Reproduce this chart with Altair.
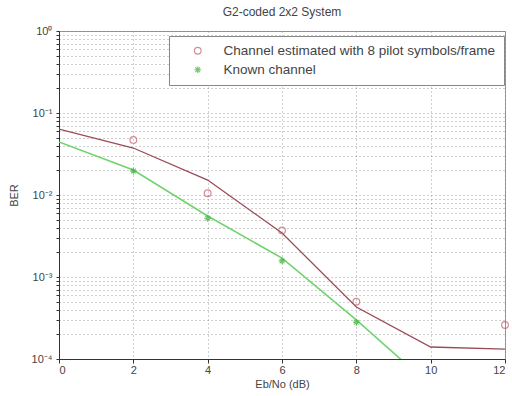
import altair as alt
import pandas as pd

# ---- data ----
red_line_x = [0, 2, 4, 6, 8, 10, 12]
red_line_y = [0.0638, 0.0374, 0.0152, 0.00344, 0.00043, 0.00014, 0.000132]
green_line_x = [0, 2, 4, 6, 8, 10]
green_line_y = [0.0443, 0.0202, 0.00555, 0.0017, 0.0003, 0.000047]

est_x = [2, 4, 6, 8, 12]
est_y = [0.047, 0.0105, 0.0037, 0.0005, 0.00026]
known_x = [2, 4, 6, 8]
known_y = [0.0196, 0.0052, 0.00157, 0.00028]

series_names = ["Channel estimated with 8 pilot symbols/frame", "Known channel"]
x_ticks = [0, 2, 4, 6, 8, 10, 12]
y_ticks = [m * 10.0 ** e for e in [-4, -3, -2, -1] for m in range(1, 10)] + [1.0]

FONT = "Liberation Sans"

red_df = pd.DataFrame({"x": red_line_x, "y": red_line_y})
green_df = pd.DataFrame({"x": green_line_x, "y": green_line_y})
pts_df = pd.DataFrame({
    "x": est_x + known_x,
    "y": est_y + known_y,
    "s": [series_names[0]] * len(est_x) + [series_names[1]] * len(known_x),
})

xs = alt.Scale(domain=[0, 12], nice=False)
ys = alt.Scale(type="log", domain=[1e-4, 1], nice=False)

label_expr = ("datum.value == 1 ? '10⁰' : datum.value == 0.1 ? '10⁻¹' : "
              "datum.value == 0.01 ? '10⁻²' : datum.value == 0.001 ? '10⁻³' : "
              "datum.value == 0.0001 ? '10⁻⁴' : ''")

x_enc = alt.X("x:Q", scale=xs, title="Eb/No (dB)",
              axis=alt.Axis(values=x_ticks, format="d", grid=True, gridDash=[1, 3],
                            gridColor="#777", gridOpacity=0.7,
                            tickSize=4, labelPadding=1, titlePadding=3))
y_enc = alt.Y("y:Q", scale=ys, title="BER",
              axis=alt.Axis(values=y_ticks, labelExpr=label_expr, grid=True,
                            gridDash=[1, 3], gridColor="#777", gridOpacity=0.7,
                            tickSize=3, labelPadding=4, titlePadding=12))

red_line = alt.Chart(red_df).mark_line(color="#9a4b55", strokeWidth=1.3, clip=True).encode(
    x=x_enc, y=y_enc)
green_line = alt.Chart(green_df).mark_line(color="#6fd46f", strokeWidth=1.6, clip=True).encode(
    x=x_enc, y=y_enc)

asterisk = "M-1,0L1,0M0,-1L0,1M-0.7,-0.7L0.7,0.7M-0.7,0.7L0.7,-0.7"
points = alt.Chart(pts_df).mark_point(filled=False, size=45, strokeWidth=1.2, clip=False).encode(
    x=x_enc, y=y_enc,
    color=alt.Color("s:N", scale=alt.Scale(domain=series_names, range=["#c0606e", "#33b033"]),
                    legend=alt.Legend(title=None, orient="none", legendX=110, legendY=5,
                                      fillColor="white", strokeColor="#888", padding=8,
                                      labelFont=FONT, labelFontSize=13.5, labelColor="#444",
                                      symbolSize=45, symbolStrokeWidth=1.2,
                                      labelLimit=400, rowPadding=4, symbolOffset=14,
                                      labelOffset=19)),
    shape=alt.Shape("s:N", scale=alt.Scale(domain=series_names, range=["circle", asterisk]),
                    legend=None),
)

chart = alt.layer(red_line, green_line, points).properties(
    width=446, height=328,
    title=alt.TitleParams("G2-coded 2x2 System", font=FONT, fontSize=12, fontWeight="normal",
                          color="#444", offset=6),
    autosize=alt.AutoSizeParams(type="none"),
    padding={"left": 59, "top": 31, "right": 7, "bottom": 37},
).configure_axis(
    labelFont=FONT, labelFontSize=11, labelColor="#444", titleFont=FONT,
    titleFontSize=11, titleFontWeight="normal", titleColor="#444",
    domainColor="#333", tickColor="#333",
).configure_view(stroke="#999")

chart.save("out.html", embed_options={"renderer": "svg", "actions": False})
